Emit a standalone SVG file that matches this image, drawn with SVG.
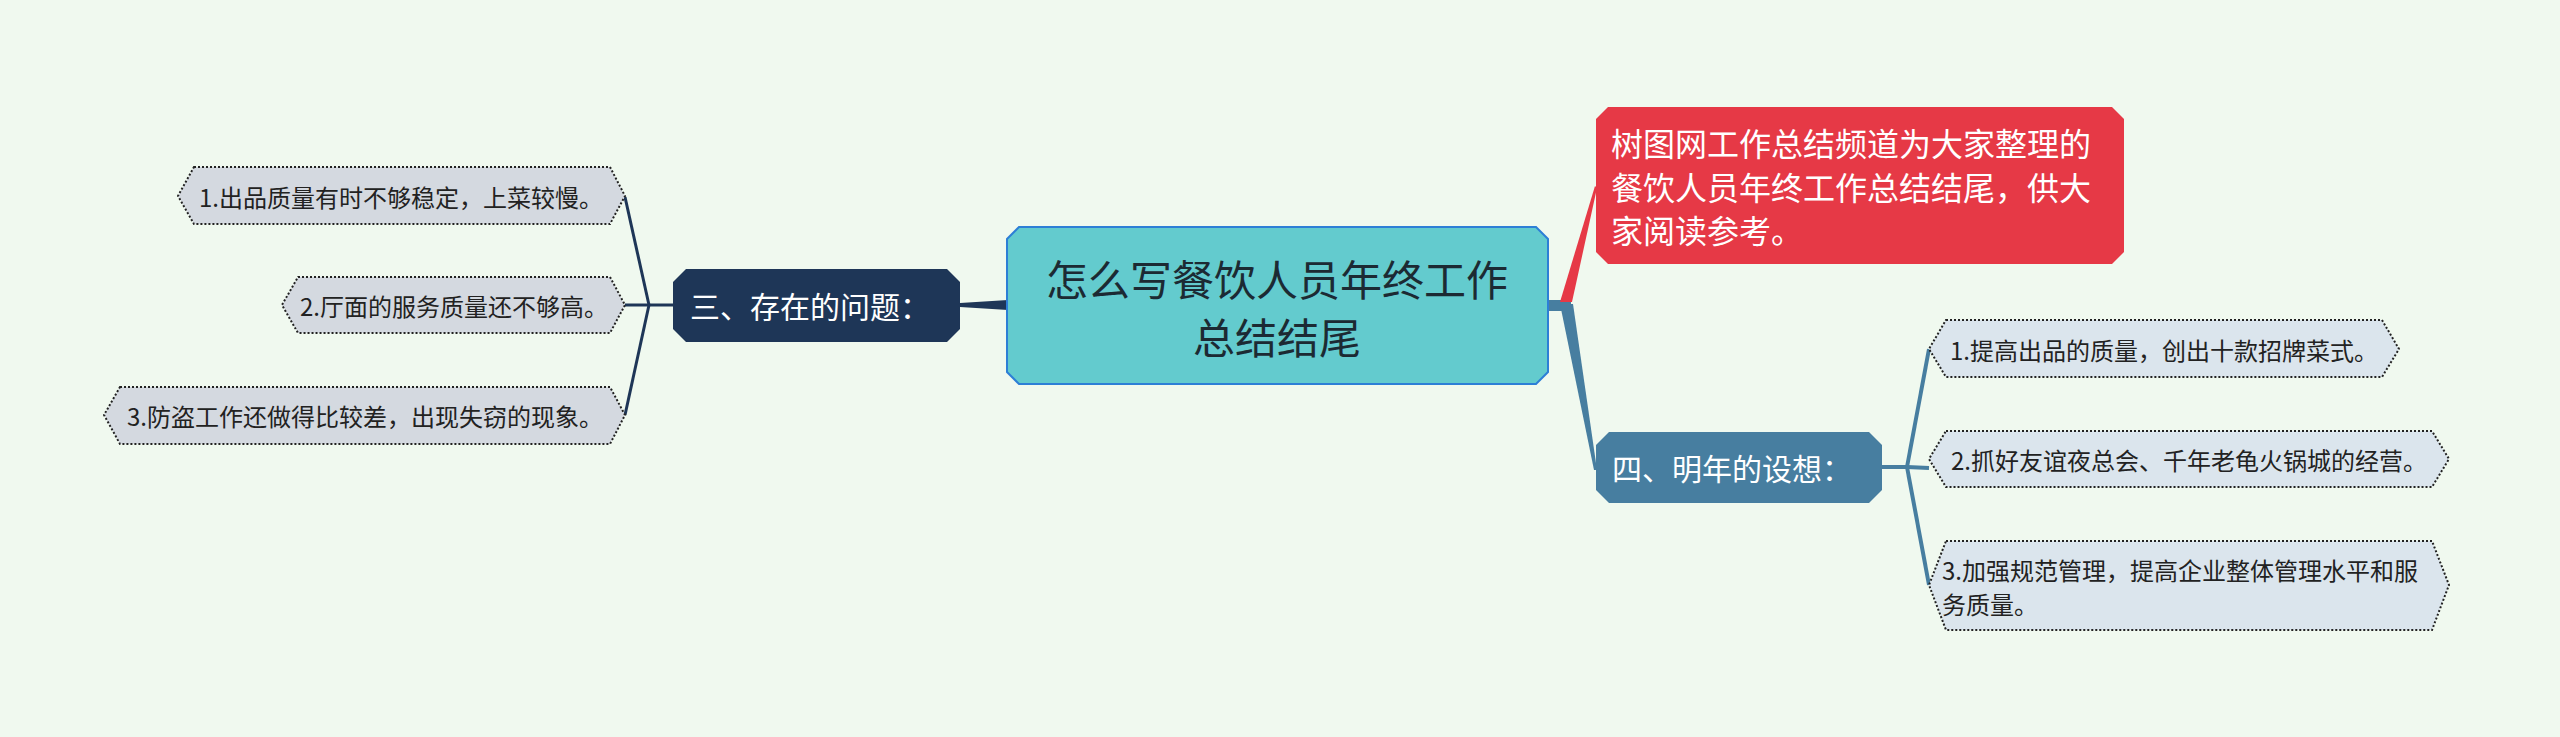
<svg xmlns="http://www.w3.org/2000/svg" width="2560" height="737" viewBox="0 0 2560 737">
<style>
text{font-family:"Noto Sans CJK SC","Microsoft YaHei",sans-serif;dominant-baseline:central}
.leaf{stroke:#222;stroke-width:2;stroke-dasharray:2 2}
.lf{fill:#d4d9e0}
.rf{fill:#dbe5ed}
.lt{font-size:24px;fill:#222;text-anchor:middle}
.navy{stroke:#1e3657;stroke-width:3;fill:none}
.steel{stroke:#477ea0;stroke-width:4;fill:none}
</style>
<rect width="2560" height="737" fill="#f0f9ef"/>
<g id="connectors">
<polygon points="960,303 1008,300 1008,310 960,307" fill="#1e3657"/>
<polyline class="navy" points="673,305 649,305"/>
<polyline class="navy" points="649,305 625,197"/>
<polyline class="navy" points="649,305 625,305"/>
<polyline class="navy" points="649,305 625,415"/>
<rect x="1547" y="300" width="24" height="11" fill="#477ea0"/>
<polygon points="1560,304 1573,304 1597,470 1594,470" fill="#477ea0"/>
<polygon points="1560,302 1572,302 1597,188 1595,186" fill="#e63946"/>
<polyline class="steel" points="1882,467 1907,467"/>
<polyline class="steel" points="1907,467 1929,349"/>
<polyline class="steel" points="1907,467 1929,468"/>
<polyline class="steel" points="1907,467 1929,585"/>
</g>
<g id="root">
<polygon points="1019,227 1536,227 1548,239 1548,372 1536,384 1019,384 1007,372 1007,239" fill="#63cbce" stroke="#2d7fd6" stroke-width="2"/>
<text x="1277" y="277" font-size="42" fill="#1c2a33" text-anchor="middle">怎么写餐饮人员年终工作</text>
<text x="1277" y="335" font-size="42" fill="#1c2a33" text-anchor="middle">总结结尾</text>
</g>
<g id="intro">
<polygon points="1608,107 2112,107 2124,119 2124,252 2112,264 1608,264 1596,252 1596,119" fill="#e63946"/>
<text x="1611" y="142" font-size="32" fill="#fff">树图网工作总结频道为大家整理的</text>
<text x="1611" y="186" font-size="32" fill="#fff">餐饮人员年终工作总结结尾，供大</text>
<text x="1611" y="229" font-size="32" fill="#fff">家阅读参考。</text>
</g>
<g id="problems">
<polygon points="686,269 947,269 960,282 960,329 947,342 686,342 673,329 673,282" fill="#1e3657"/>
<text x="690" y="305" font-size="30" fill="#fff">三、存在的问题：</text>
</g>
<g id="p1">
<polygon class="leaf lf" points="194,167 610,167 625,196 610,224 194,224 178,196"/>
<text class="lt" x="401" y="196">1.出品质量有时不够稳定，上菜较慢。</text>
</g>
<g id="p2">
<polygon class="leaf lf" points="298,277 610,277 625,305 610,333 298,333 282,305"/>
<text class="lt" x="454" y="305">2.厅面的服务质量还不够高。</text>
</g>
<g id="p3">
<polygon class="leaf lf" points="120,387 610,387 625,415 610,444 120,444 104,415"/>
<text class="lt" x="365" y="415">3.防盗工作还做得比较差，出现失窃的现象。</text>
</g>
<g id="plans">
<polygon points="1609,432 1869,432 1882,445 1882,490 1869,503 1609,503 1596,490 1596,445" fill="#477ea0"/>
<text x="1612" y="467" font-size="30" fill="#fff">四、明年的设想：</text>
</g>
<g id="r1">
<polygon class="leaf rf" points="1946,320 2382,320 2399,349 2382,377 1946,377 1929,349"/>
<text class="lt" x="2164" y="349">1.提高出品的质量，创出十款招牌菜式。</text>
</g>
<g id="r2">
<polygon class="leaf rf" points="1946,431 2432,431 2449,459 2432,487 1946,487 1929,459"/>
<text class="lt" x="2189" y="459">2.抓好友谊夜总会、千年老龟火锅城的经营。</text>
</g>
<g id="r3">
<polygon class="leaf rf" points="1946,541 2432,541 2449,585 2432,630 1946,630 1929,585"/>
<text x="1942" y="569" font-size="24" fill="#222">3.加强规范管理，提高企业整体管理水平和服</text>
<text x="1942" y="603" font-size="24" fill="#222">务质量。</text>
</g>
</svg>
